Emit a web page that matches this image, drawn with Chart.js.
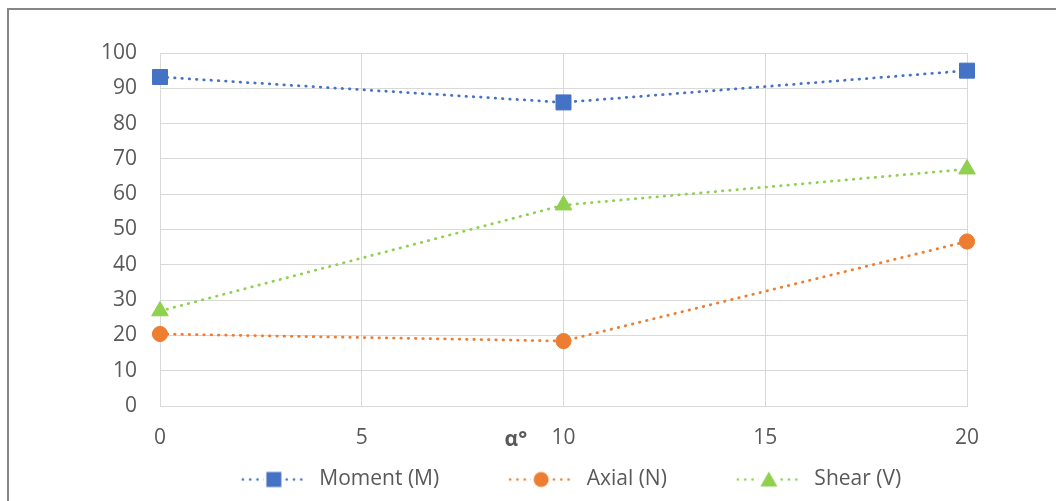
<!DOCTYPE html>
<html>
<head>
<meta charset="utf-8">
<script src="https://cdn.jsdelivr.net/npm/chart.js@4/dist/chart.umd.min.js"></script>
<style>
  html, body { margin: 0; padding: 0; background: #fff; overflow: hidden; }
  #wrap { position: relative; width: 1056px; height: 501px; }
  #frame { position: absolute; left: 7px; top: 8px; width: 1200px; height: 700px;
           border: 2px solid #858585; pointer-events: none; }
  canvas { position: absolute; left: 0; top: 0; }
</style>
</head>
<body>
<div id="wrap">
  <canvas id="chart" width="1056" height="501"></canvas>
  <div id="frame"></div>
</div>
<script>
// Angle of inclination (degrees) and the percentage values per internal force
const angles = [0, 10, 20];
const momentM = [93.2, 86.0, 95.0];
const axialN = [20.4, 18.4, 46.6];
const shearV = [26.9, 56.9, 67.1];
const seriesNames = ['Moment (M)', 'Axial (N)', 'Shear (V)'];
const xAxisTitle = 'α°';

const COLORS = ['#4472C4', '#ED7D31', '#8FD14F'];
const MARKERS = ['rect', 'circle', 'triangle'];
const RADII = [10.6, 7.6, 9.6];
const TEXT = '#595959';
const FONT = '"Open Sans", "Noto Sans", sans-serif';

function toPoints(values) {
  return angles.map((a, i) => ({ x: a, y: values[i] }));
}

// Legend sample: dotted line with the marker in the middle
function legendSample(color, marker) {
  const padL = 56, lineW = 66, padR = 2;
  const c = document.createElement('canvas');
  c.width = padL + lineW + padR;
  c.height = 22;
  const g = c.getContext('2d');
  const cy = 11;
  g.fillStyle = color;
  for (let x = padL + 2; x <= padL + lineW; x += 7.3) {
    g.beginPath();
    g.arc(x, cy, 1.35, 0, Math.PI * 2);
    g.fill();
  }
  const cx = padL + lineW / 2;
  g.fillStyle = '#fff';
  g.fillRect(cx - 10, 0, 20, 22);
  g.fillStyle = color;
  g.beginPath();
  if (marker === 'rect') {
    g.rect(cx - 7.5, cy - 7.5, 15, 15);
  } else if (marker === 'circle') {
    g.arc(cx, cy, 7.5, 0, Math.PI * 2);
  } else {
    g.moveTo(cx, cy - 8);
    g.lineTo(cx + 8.5, cy + 7);
    g.lineTo(cx - 8.5, cy + 7);
    g.closePath();
  }
  g.fill();
  return c;
}

const samples = COLORS.map((c, i) => legendSample(c, MARKERS[i]));

function makeDataset(label, values, i) {
  return {
    label: label,
    data: toPoints(values),
    borderColor: COLORS[i],
    backgroundColor: COLORS[i],
    borderWidth: 2.75,
    borderDash: [0.5, 6.8],
    borderCapStyle: 'round',
    pointStyle: MARKERS[i],
    pointRadius: RADII[i],
    pointHoverRadius: RADII[i],
    pointBackgroundColor: COLORS[i],
    pointBorderColor: COLORS[i],
    pointBorderWidth: 1,
    tension: 0,
    clip: false
  };
}

// Axis title placed on the tick label row, left of the centre
const axisTitlePlugin = {
  id: 'axisTitle',
  afterDraw(chart) {
    const { ctx, chartArea } = chart;
    ctx.save();
    ctx.font = 'bold 21px ' + FONT;
    ctx.fillStyle = TEXT;
    ctx.textAlign = 'center';
    ctx.textBaseline = 'alphabetic';
    const x = chartArea.left + (chartArea.right - chartArea.left) * 0.441;
    ctx.fillText(xAxisTitle, x, chartArea.bottom + 40);
    ctx.restore();
  }
};

new Chart(document.getElementById('chart'), {
  type: 'line',
  data: {
    datasets: [
      makeDataset(seriesNames[0], momentM, 0),
      makeDataset(seriesNames[1], axialN, 1),
      makeDataset(seriesNames[2], shearV, 2)
    ]
  },
  options: {
    responsive: false,
    animation: false,
    events: [],
    layout: { padding: { left: 30, right: 0, top: 53, bottom: 1 } },
    scales: {
      x: {
        type: 'linear',
        min: 0,
        max: 20,
        ticks: { stepSize: 5, color: TEXT, font: { family: FONT, size: 21 }, padding: 19 },
        grid: { color: '#D9D9D9', lineWidth: 1, drawTicks: false },
        border: { color: '#D9D9D9' },
        afterFit(s) { s.height = 50; }
      },
      y: {
        min: 0,
        max: 100,
        ticks: { stepSize: 10, color: TEXT, font: { family: FONT, size: 21 }, padding: 23 },
        grid: { color: '#D9D9D9', lineWidth: 1, drawTicks: false },
        border: { color: '#D9D9D9' },
        afterFit(s) { s.width = 130; }
      },
      // empty right-hand margin beside the plot
      yRight: {
        position: 'right',
        min: 0,
        max: 100,
        ticks: { display: false },
        grid: { display: false, drawTicks: false },
        border: { display: false },
        afterFit(s) { s.width = 89; }
      }
    },
    plugins: {
      tooltip: { enabled: false },
      legend: {
        position: 'bottom',
        align: 'center',
        labels: {
          usePointStyle: true,
          pointStyleWidth: samples[0].width,
          padding: 13,
          color: TEXT,
          font: { family: FONT, size: 21 },
          generateLabels(chart) {
            return chart.data.datasets.map((ds, i) => ({
              text: ds.label,
              pointStyle: samples[i],
              fillStyle: COLORS[i],
              strokeStyle: COLORS[i],
              lineWidth: 0,
              fontColor: TEXT,
              datasetIndex: i,
              hidden: false
            }));
          }
        }
      }
    }
  },
  plugins: [axisTitlePlugin]
});
</script>
</body>
</html>
